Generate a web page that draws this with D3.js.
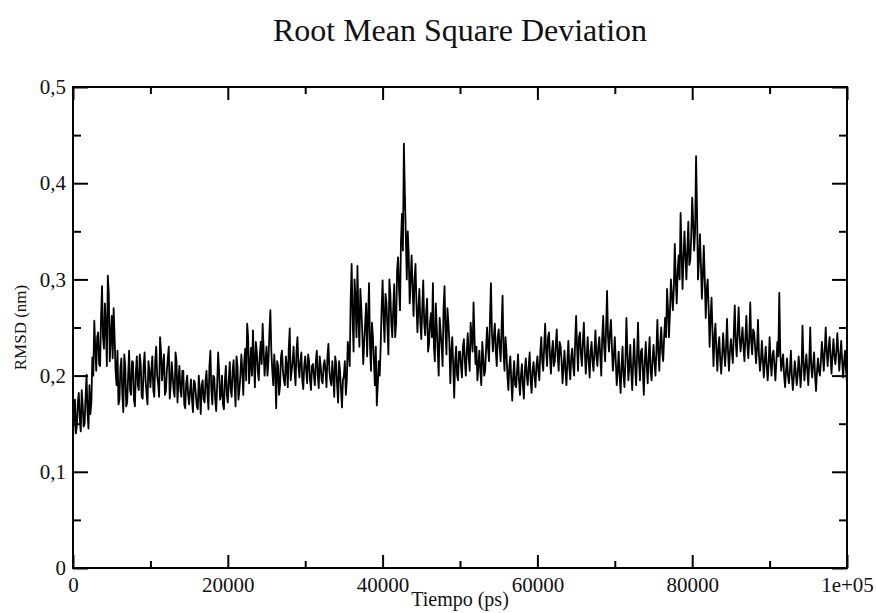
<!DOCTYPE html>
<meta charset="utf-8">
<html>
<head>
    <title>Root Mean Square Deviation</title>
    <script src="https://cdn.jsdelivr.net/npm/d3@7"></script>
</head>

<style>
    body{
        margin: 0;
        background: white;
    }
    svg{
        display: block;
    }
    text{
        fill: #111;
        font-family: "Liberation Serif", "DejaVu Serif", serif;
    }
    .curve{
        fill: none;
        stroke: black;
        stroke-width: 1.8px;
        stroke-linejoin: round;
    }
    .frame{
        fill: none;
        stroke: black;
        stroke-width: 2px;
    }
    .tick line{
        stroke: black;
        stroke-width: 2px;
    }
</style>

<body>
<svg width="876" height="613"></svg>
<script>

    // RMSD, in pm (1 nm = 1000 pm)
    // rmsd_pm: frames at 0, 250, 500 ... ps ; rmsd_mid_pm: frames at 125, 375, 625 ... ps
    let timeStep = 250
    let rmsd_pm = [
        133,175,148,182,142,170,150,201,145,160,219,257,205,245,210,293,228,252,304,215,
        262,270,205,226,175,218,162,210,172,226,180,214,168,220,185,212,176,224,182,215,
        188,220,178,230,192,240,195,222,184,218,176,214,185,224,172,210,178,205,166,200,
        170,196,162,192,168,200,160,195,172,205,165,226,170,198,163,224,175,200,165,210,
        172,214,178,216,168,210,185,222,180,228,254,192,229,247,188,225,195,235,254,200,
        230,215,268,205,222,166,210,190,226,195,220,188,249,205,230,190,240,198,224,186,
        220,192,215,185,212,190,226,187,210,192,216,188,233,195,215,178,212,172,205,167,
        200,180,235,210,316,225,281,314,230,270,212,255,220,296,205,240,190,169,215,230,
        299,235,275,222,285,240,295,255,323,268,368,441,345,350,275,325,262,316,245,290,
        238,299,242,280,233,265,296,215,250,200,245,210,293,222,255,192,240,177,230,195,
        225,198,238,200,244,205,240,276,212,195,226,190,220,205,250,215,296,225,254,210,
        248,215,283,205,226,185,220,174,215,188,222,180,212,176,218,190,224,182,214,188,
        220,195,240,205,254,210,245,202,236,215,248,205,230,192,226,190,236,196,228,200,
        262,205,245,210,255,202,240,198,235,205,247,210,240,200,262,215,288,225,258,205,
        240,190,225,182,230,188,260,195,232,185,238,190,255,195,228,180,235,192,240,195,
        232,200,258,205,250,215,260,290,240,300,268,337,275,325,369,290,350,300,360,320,
        385,330,428,300,347,280,335,260,300,230,281,210,254,205,240,202,244,210,259,205,
        238,213,273,220,271,225,250,215,262,218,276,222,245,213,258,205,236,198,230,195,
        240,200,226,195,235,286,205,222,188,218,192,226,185,215,190,220,188,252,195,222,
        190,250,198,224,184,218,200,235,205,250,210,240,202,238,212,244,205,236,198,226,
        192
    ]
    let rmsd_mid_pm = [
        160,140,172,155,185,147,178,162,190,172,200,230,240,212,262,240,275,210,285,240,
        218,240,190,170,208,180,222,168,200,185,215,175,205,190,222,178,210,195,170,205,
        205,185,215,200,178,225,210,180,205,230,190,200,178,215,195,185,205,170,192,180,
        185,175,195,180,165,185,190,175,195,180,210,185,200,175,190,205,180,170,195,180,
        195,185,205,190,220,175,200,205,215,195,240,210,200,215,235,205,220,212,228,215,
        200,245,225,190,205,215,180,220,205,190,210,228,195,215,205,225,210,215,195,210,
        205,222,195,210,200,215,200,220,195,210,205,220,205,190,200,220,190,215,185,195,
        215,195,225,280,260,300,240,260,290,245,235,275,260,230,255,215,230,190,200,270,
        260,285,250,300,255,270,240,310,290,340,330,390,300,325,300,290,300,275,270,255,
        270,255,265,225,255,240,230,275,225,260,230,270,245,270,235,225,210,215,200,225,
        210,230,215,225,220,255,225,240,230,210,205,235,200,230,228,260,245,240,225,240,
        230,250,225,240,200,210,195,200,190,205,195,200,190,205,200,210,195,205,200,210,
        205,225,215,230,225,240,220,225,210,232,220,235,215,210,205,215,208,220,210,235,
        230,240,222,235,225,220,215,225,215,225,220,230,220,240,230,250,240,245,230,220,
        215,205,200,210,200,215,225,210,205,215,210,220,215,225,205,215,210,220,205,215,
        215,225,225,235,225,240,240,270,265,285,290,300,310,300,330,320,325,330,315,345,
        360,350,370,320,315,305,300,290,270,260,245,240,225,230,215,222,225,230,225,225,
        225,245,235,245,240,238,230,240,232,240,235,248,230,228,222,215,218,215,210,212,
        215,222,210,215,220,225,215,200,205,200,205,200,198,205,200,208,205,215,210,205,
        215,210,212,200,205,205,215,222,225,225,228,220,222,220,225,225,220,215,215,205
    ]

    // axis ticks
    let xMajor = [0, 20000, 40000, 60000, 80000, 100000]
    let xMinor = [10000, 30000, 50000, 70000, 90000]
    let yMajor = [0, 0.1, 0.2, 0.3, 0.4, 0.5]
    let yMinor = [0.05, 0.15, 0.25, 0.35, 0.45]
    let xTickLabels = ["0", "20000", "40000", "60000", "80000", "1e+05"]

    // merge both frame sets in time order
    let series = []
    rmsd_pm.forEach(function(v, i) {
        series.push({t: i * timeStep, v: v / 1000})
        if (i < rmsd_mid_pm.length) {
            series.push({t: i * timeStep + timeStep / 2, v: rmsd_mid_pm[i] / 1000})
        }
    })

    let svg = d3.select("svg")
    let plotLeft = 73, plotRight = 847, plotTop = 87, plotBottom = 568

    let x = d3.scaleLinear().domain([0, 100000]).range([plotLeft, plotRight])
    let y = d3.scaleLinear().domain([0, 0.5]).range([plotBottom, plotTop])

    // curve
    let line = d3.line()
        .x(d => x(d.t))
        .y(d => y(d.v))
    svg.append("path")
        .datum(series)
        .attr("class", "curve")
        .attr("d", line)

    //*****************************
    // ticks, all pointing inward, mirrored on top and right
    function addAxis(axis, tx, ty) {
        let g = svg.append("g")
            .attr("transform", "translate(" + tx + "," + ty + ")")
            .call(axis)
        g.select(".domain").remove()
        return g
    }

    let xb = addAxis(d3.axisBottom(x).tickValues(xMajor).tickSize(-13).tickPadding(9)
        .tickFormat((d, i) => xTickLabels[i]), 0, plotBottom)
    xb.selectAll("text").attr("font-size", "21px").attr("fill", "#111")
    addAxis(d3.axisBottom(x).tickValues(xMinor).tickSize(-7).tickFormat(""), 0, plotBottom)
    addAxis(d3.axisTop(x).tickValues(xMajor).tickSize(-13).tickFormat(""), 0, plotTop)
    addAxis(d3.axisTop(x).tickValues(xMinor).tickSize(-7).tickFormat(""), 0, plotTop)

    let yl = addAxis(d3.axisLeft(y).tickValues(yMajor).tickSize(-15).tickPadding(7)
        .tickFormat(d => d === 0 ? "0" : d3.format(".1f")(d).replace(".", ",")), plotLeft, 0)
    yl.selectAll("text").attr("font-size", "21px").attr("fill", "#111")
    addAxis(d3.axisLeft(y).tickValues(yMinor).tickSize(-8).tickFormat(""), plotLeft, 0)
    addAxis(d3.axisRight(y).tickValues(yMajor).tickSize(-15).tickFormat(""), plotRight, 0)
    addAxis(d3.axisRight(y).tickValues(yMinor).tickSize(-8).tickFormat(""), plotRight, 0)

    svg.append("rect")
        .attr("class", "frame")
        .attr("x", plotLeft)
        .attr("y", plotTop)
        .attr("width", plotRight - plotLeft)
        .attr("height", plotBottom - plotTop)

    //*****************************
    // labels
    svg.append("text")
        .attr("x", (plotLeft + plotRight) / 2)
        .attr("y", 41)
        .attr("text-anchor", "middle")
        .attr("font-size", "32px")
        .text("Root Mean Square Deviation")

    svg.append("text")
        .attr("x", (plotLeft + plotRight) / 2)
        .attr("y", 606)
        .attr("text-anchor", "middle")
        .attr("font-size", "20px")
        .text("Tiempo (ps)")

    svg.append("text")
        .attr("transform", "translate(26," + (plotTop + plotBottom) / 2 + ") rotate(-90)")
        .attr("text-anchor", "middle")
        .attr("font-size", "17px")
        .text("RMSD (nm)")
</script>
</body>
</html>
